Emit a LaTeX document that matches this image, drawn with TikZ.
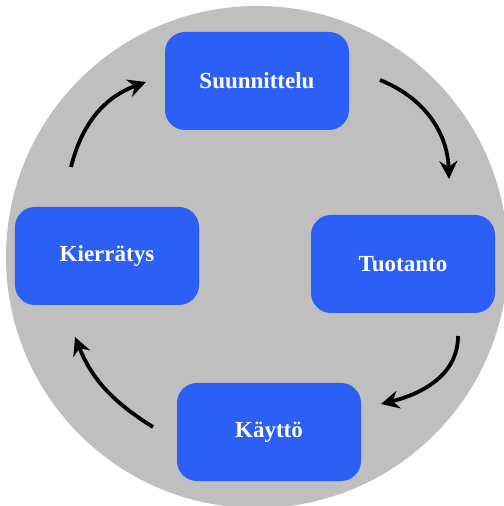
\documentclass[tikz,border=0pt]{standalone}
\usepackage{fontspec}
\setmainfont{Liberation Serif}
\usetikzlibrary{arrows.meta}
\definecolor{stageblue}{RGB}{43,95,245}
\definecolor{discgray}{RGB}{191,191,191}
\begin{document}
\begin{tikzpicture}[x=1bp,y=1bp,
  stagebox/.style={draw=none, fill=stageblue, rounded corners=20bp,
    minimum width=184bp, minimum height=98bp, inner sep=0pt,
    text=white, font=\fontsize{23bp}{26bp}\selectfont\bfseries},
  cyclearrow/.style={line width=3.8bp, -{Stealth[length=18bp,width=18bp,inset=6bp]}}]
  % page and background disc
  \useasboundingbox (0,0) rectangle (504,506);
  \fill[white] (0,0) rectangle (504,506);
  \fill[discgray] (257,249) circle[radius=251];
  % the four stages
  \node[stagebox] (plan)  at (257,425) {Suunnittelu};
  \node[stagebox] (prod)  at (403,242) {Tuotanto};
  \node[stagebox] (use)   at (269,74)  {Käyttö};
  \node[stagebox] (recyc) at (107,250) {Kierrätys};
  % arrow end points
  \coordinate (a1s) at (380,426);
  \coordinate (a1e) at (449,327);
  \coordinate (a2s) at (458,170);
  \coordinate (a2e) at (381,102);
  \coordinate (a3s) at (153,79);
  \coordinate (a3e) at (75,169);
  \coordinate (a4s) at (71,339);
  \coordinate (a4e) at (146,424);
  % cycle arrows
  \draw[cyclearrow] (a1s) to[out=-22, in=92] (a1e);
  \draw[cyclearrow] (a2s) to[out=-90, in=14] (a2e);
  \draw[cyclearrow] (a3s) to[out=148, in=-68] (a3e);
  \draw[cyclearrow] (a4s) to[out=76, in=200] (a4e);
\end{tikzpicture}
\end{document}
